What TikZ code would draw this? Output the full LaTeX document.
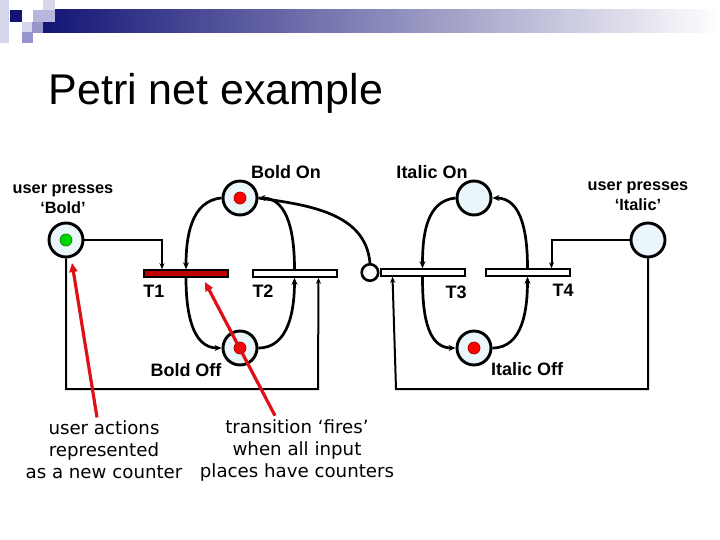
\documentclass[tikz,border=0pt]{standalone}
\usepackage{fontspec}
\setmainfont{Liberation Sans}
\newfontfamily\notafont{DejaVu Sans}
\usepackage{xcolor}
\definecolor{marino}{RGB}{20,20,118}
\definecolor{celeste}{RGB}{234,246,250}
\definecolor{rojoficha}{RGB}{255,0,0}
\definecolor{verdeficha}{RGB}{0,214,0}
\definecolor{rojot}{RGB}{192,0,0}
\definecolor{rojonota}{RGB}{222,16,24}
\definecolor{lila}{RGB}{182,182,222}
\definecolor{lilaosc}{RGB}{150,150,204}
\definecolor{lilacla}{RGB}{214,214,236}
\usepackage{tikz}
\usetikzlibrary{positioning, arrows.meta}

\begin{document}
\begin{tikzpicture}[x=1pt, y=-1pt,
    lugar/.style={circle, draw, line width=2.9pt, fill=celeste, minimum size=34pt, inner sep=0pt},
    ficha/.style={circle, draw=#1!65!black, line width=0.7pt, fill=#1, minimum size=12pt, inner sep=0pt},
    transicion/.style={rectangle, draw, line width=2pt, fill=white, minimum width=84pt, minimum height=6.5pt, inner sep=0pt},
    inhibidor/.style={circle, draw, line width=2.6pt, fill=white, minimum size=16.5pt, inner sep=0pt},
    arco/.style={line width=2.7pt, -{Stealth[length=7pt,width=6pt]}},
    linea/.style={line width=2pt, -{Stealth[length=6pt,width=5pt]}},
    etiqueta/.style={font=\bfseries\fontsize{18}{21}\selectfont},
    usuario/.style={font=\bfseries\fontsize{16.3}{20}\selectfont, align=center},
    texto/.style={font=\notafont\fontsize{18.2}{22}\selectfont, align=center},
    nota/.style={draw=rojonota, line width=3.2pt, -{Triangle[length=9pt,width=8pt]}}]
    \useasboundingbox (0,0) rectangle (720,540);
    % Cabecera de la diapositiva
    \shade[left color=marino, right color=white] (43,10) rectangle (720,33);
    \fill[lilacla] (0,0) rectangle (9,43);
    \fill[marino] (10,10) rectangle (22,22);
    \fill[lila] (33,10) rectangle (55,22);
    \fill[lilacla] (43,0) rectangle (55,10);
    \fill[lilacla] (22,22) rectangle (32,32);
    \fill[lilaosc] (32,22) rectangle (43,33);
    \fill[lilaosc] (22,32) rectangle (33,43);
    \node[anchor=base west, font=\fontsize{43}{50}\selectfont] (titulo) at (45,105) {Petri net example};
    % Lugares y fichas
    \node[lugar] (ubold) at (66,240) {};
    \node[ficha=verdeficha] (f0) at (ubold) {};
    \node[lugar] (bon) at (240,198) {};
    \node[ficha=rojoficha] (f1) at (bon) {};
    \node[lugar] (boff) at (240,348) {};
    \node[ficha=rojoficha] (f2) at (boff) {};
    \node[lugar] (ion) at (474,198) {};
    \node[lugar] (ioff) at (474,348) {};
    \node[ficha=rojoficha] (f3) at (ioff) {};
    \node[lugar] (uital) at (648,240) {};
    % Transiciones
    \node[transicion, fill=rojot] (t1) at (186,273.5) {};
    \node[transicion] (t2) at (294.5,273.5) {};
    \node[transicion] (t3) at (422.5,272.5) {};
    \node[transicion] (t4) at (527.5,272.5) {};
    \node[inhibidor, left=0pt of t3] (inh) {};
    % Etiquetas
    \node[etiqueta] (lt1) at (154,291) {T1};
    \node[etiqueta] (lt2) at (263,291) {T2};
    \node[etiqueta] (lt3) at (456,292) {T3};
    \node[etiqueta] (lt4) at (563,290) {T4};
    \node[etiqueta] (lbon) at (286,172) {Bold On};
    \node[etiqueta] (lion) at (432,172) {Italic On};
    \node[etiqueta] (lboff) at (186,370) {Bold Off};
    \node[etiqueta] (lioff) at (527,369) {Italic Off};
    \node[usuario] (lubold) at (63,199) {user presses\\‘Bold’};
    \node[usuario] (luital) at (638,196) {user presses\\‘Italic’};
    % Arcos
    \draw[linea] (ubold.east) -| ([xshift=19pt]t1.north west);
    \draw[arco] (bon.west) to[out=185,in=90] (t1.north);
    \draw[arco] (t2.north) to[out=90,in=0] (bon.east);
    \draw[line width=2.7pt] (bon.east) to[out=-8,in=95] (inh.north);
    \draw[arco] (t1.south) to[out=-90,in=180] (boff.west);
    \draw[arco] (boff.east) to[out=0,in=-90] (t2.south);
    \coordinate (esqbold) at (318,389);
    \draw[linea] (ubold.south) |- (esqbold) -- ([xshift=-19pt]t2.south east);
    \draw[arco] (ion.west) to[out=185,in=90] (t3.north);
    \draw[arco] (t4.north) to[out=90,in=0] (ion.east);
    \draw[arco] (t3.south) to[out=-90,in=180] (ioff.west);
    \draw[arco] (ioff.east) to[out=0,in=-90] (t4.south);
    \draw[linea] (uital.west) -| ([xshift=-19pt]t4.north east);
    \coordinate (esqital) at (396,389);
    \draw[linea] (uital.south) |- (esqital) -- ([xshift=13pt]t3.south west);
    % Notas en rojo
    \node[texto] (nota1) at (104,450) {user actions\\represented\\as a new counter};
    \node[texto] (nota2) at (297,450) {transition ‘fires’\\when all input\\places have counters};
    \coordinate (punta1) at (72,263);
    \coordinate (punta2) at (205,282);
    \draw[nota] ([xshift=-7pt]nota1.north) -- (punta1);
    \draw[nota] ([xshift=-22pt]nota2.north) -- (punta2);
\end{tikzpicture}
\end{document}
